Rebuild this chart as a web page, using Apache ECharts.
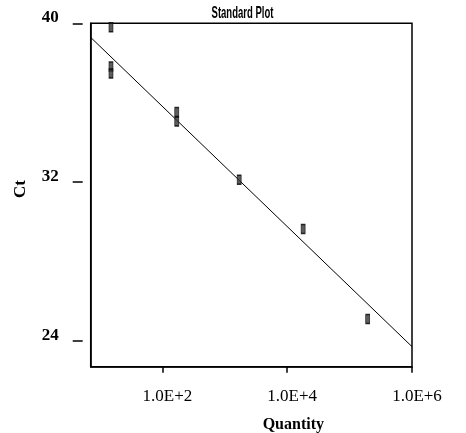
<!DOCTYPE html>
<html>
<head>
<meta charset="utf-8">
<script src="https://cdn.jsdelivr.net/npm/echarts@6/dist/echarts.min.js"></script>
<style>html,body{margin:0;padding:0;background:#fff}#c{width:466px;height:433px}</style>
</head>
<body>
<div id="c"></div>
<script>
// Data
const quantity = [15, 15, 15, 170, 170, 1700, 18000, 195000];
const ct = [39.8, 37.82, 37.47, 35.53, 35.05, 32.12, 29.64, 25.1];
const fitQuantity = [7.1, 1000000];
const fitCt = [39.29, 23.71];
const xTickPowers = [2, 4, 6];
const xTickLabels = ['1.0E+2', '1.0E+4', '1.0E+6'];
const yTickValues = [24, 32, 40];
const yTickLabels = ['24', '32', '40'];
const xRangeQty = [7.1, 1000000];
const yRange = [22.7, 40];

const points = quantity.map((q, i) => [Math.log10(q), ct[i]]);
const fit = fitQuantity.map((q, i) => [Math.log10(q), fitCt[i]]);

const chart = echarts.init(document.getElementById('c'), null, {renderer: 'canvas'});
const serif = '"Liberation Serif", "Times New Roman", serif';
chart.setOption({
  animation: false,
  backgroundColor: '#fff',
  graphic: [{
    type: 'text', x: 242.5, y: 13, scaleX: 0.56, z: 10,
    style: {text: 'Standard Plot', font: 'bold 17px "Liberation Sans", Arial, sans-serif', fill: '#000', align: 'center', verticalAlign: 'middle'}
  }],
  grid: {left: 90.7, right: 54, top: 23.3, bottom: 66.3, show: true, borderColor: '#000', borderWidth: 1.5, backgroundColor: 'transparent', containLabel: false, outerBoundsMode: 'none'},
  xAxis: {
    type: 'value',
    min: Math.log10(xRangeQty[0]), max: Math.log10(xRangeQty[1]),
    name: 'Quantity', nameLocation: 'middle', nameGap: 50,
    nameTextStyle: {fontFamily: serif, fontWeight: 'bold', fontSize: 16, color: '#000', padding: [0, 0, 0, 84]},
    axisLine: {show: true, lineStyle: {color: '#000', width: 1.5}},
    axisTick: {show: true, length: 6, customValues: xTickPowers, lineStyle: {color: '#000', width: 1.5}},
    axisLabel: {
      customValues: xTickPowers, margin: 21,
      formatter: v => xTickLabels[xTickPowers.indexOf(Math.round(v))],
      fontFamily: serif, fontSize: 17, color: '#000', padding: [0, 0, 0, 10]
    },
    splitLine: {show: false}
  },
  yAxis: [{
    type: 'value', min: yRange[0], max: yRange[1],
    axisLine: {show: true, lineStyle: {color: '#000', width: 1.5}},
    axisTick: {show: false}, axisLabel: {show: false}, splitLine: {show: false}
  }, {
    type: 'value', min: yRange[0], max: yRange[1], position: 'left', offset: 8,
    name: 'Ct', nameLocation: 'middle', nameGap: 54, nameRotate: 90,
    nameTextStyle: {fontFamily: serif, fontWeight: 'bold', fontSize: 17, color: '#000', padding: [0, 0, 0, 12]},
    axisLine: {show: false},
    axisTick: {show: true, length: 10, customValues: yTickValues, lineStyle: {color: '#000', width: 1.5}},
    axisLabel: {
      customValues: yTickValues, margin: 24,
      formatter: v => '{a|' + yTickLabels[yTickValues.indexOf(Math.round(v))] + '}',
      rich: {a: {fontFamily: serif, fontSize: 17, fontWeight: 'bold', color: '#000', padding: [0, 0, 11, 0]}}
    },
    splitLine: {show: false}
  }],
  series: [{
    type: 'line', data: fit, showSymbol: false, symbol: 'none',
    lineStyle: {color: '#000', width: 1}, z: 2
  }, {
    type: 'scatter', data: points, symbol: 'rect', symbolSize: [4, 9],
    itemStyle: {color: '#333', borderColor: '#000', borderWidth: 1}, z: 3
  }]
});
</script>
</body>
</html>
